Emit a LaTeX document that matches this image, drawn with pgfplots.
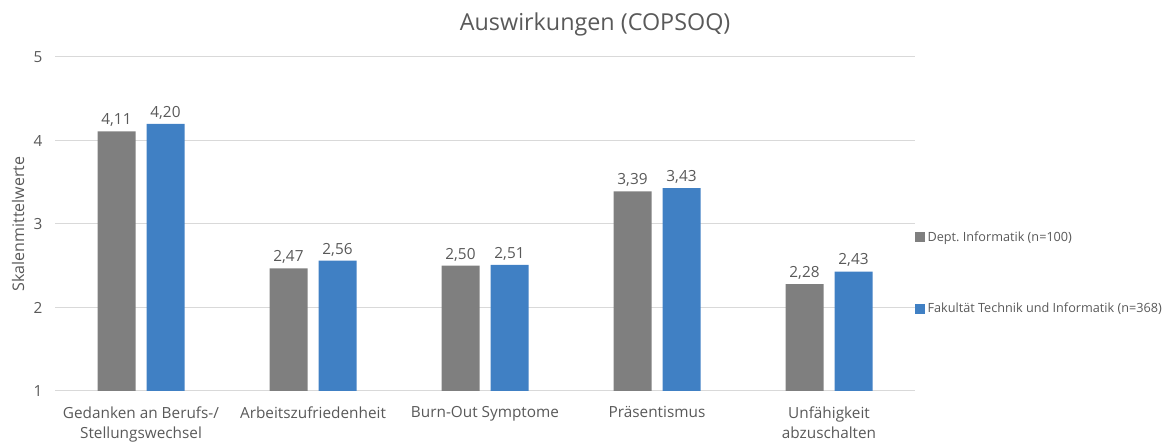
\documentclass[border=0pt]{standalone}
\usepackage{pgfplots}
\pgfplotsset{compat=1.18}
\usepackage{fontspec}
\setmainfont{Open Sans}
\definecolor{cgray}{HTML}{7F7F7F}
\definecolor{cblue}{HTML}{4080C4}
\definecolor{ctext}{HTML}{595959}
\definecolor{cgrid}{HTML}{D9D9D9}
\begin{document}
\begin{tikzpicture}
\useasboundingbox (0,0) rectangle (875.25pt,331.5pt);
\begin{axis}[
  at={(41.25pt,38.25pt)}, anchor=south west,
  scale only axis, width=645pt, height=250.5pt,
  ybar=8.25pt, bar width=28.5pt,
  xmin=-0.5, xmax=4.5, ymin=1, ymax=5,
  xtick=data,
  xticklabels={{Gedanken an Berufs-/\\Stellungswechsel},{Arbeitszufriedenheit},{Burn-Out Symptome},{Präsentismus},{Unfähigkeit\\abzuschalten}},
  xticklabel style={align=center, font=\fontsize{11.5}{15.5}\selectfont, text=ctext, yshift=-8pt},
  ytick={1,2,3,4,5},
  yticklabel style={font=\fontsize{11.5}{13}\selectfont, text=ctext, xshift=-6pt},
  /pgf/number format/assume math mode=true,
  ymajorgrids, grid style={cgrid, line width=0.75pt},
  axis line style={draw=none},
  major tick length=0pt,
  ylabel={Skalenmittelwerte},
  ylabel style={font=\fontsize{12}{14}\selectfont, text=ctext, at={(rel axis cs:-0.043,0.5)}, anchor=center, rotate=0},
  title={Auswirkungen (COPSOQ)},
  title style={font=\fontsize{17.5}{20}\selectfont, text=ctext, at={(rel axis cs:0.628,1)}, anchor=south, yshift=6.5pt},
  nodes near coords,
  nodes near coords style={font=\fontsize{11.5}{13}\selectfont, text=ctext, /pgf/number format/.cd, fixed, fixed zerofill, precision=2, use comma, assume math mode=true},
  legend style={draw=none, at={(rel axis cs:0.995,0.353)}, anchor=west, font=\fontsize{9.5}{11}\selectfont, text=ctext, row sep=41pt, fill=none},
  legend cell align=left,
  legend image code/.code={\fill[#1] (0pt,-3.75pt) rectangle (7.5pt,3.75pt);},
]
\addplot[fill=cgray, draw=none] coordinates {(0,4.11) (1,2.47) (2,2.50) (3,3.39) (4,2.28)};
\addplot[fill=cblue, draw=none] coordinates {(0,4.20) (1,2.56) (2,2.51) (3,3.43) (4,2.43)};
\legend{Dept.\ Informatik (n=100), Fakultät Technik und Informatik (n=368)}
\end{axis}
\end{tikzpicture}
\end{document}
